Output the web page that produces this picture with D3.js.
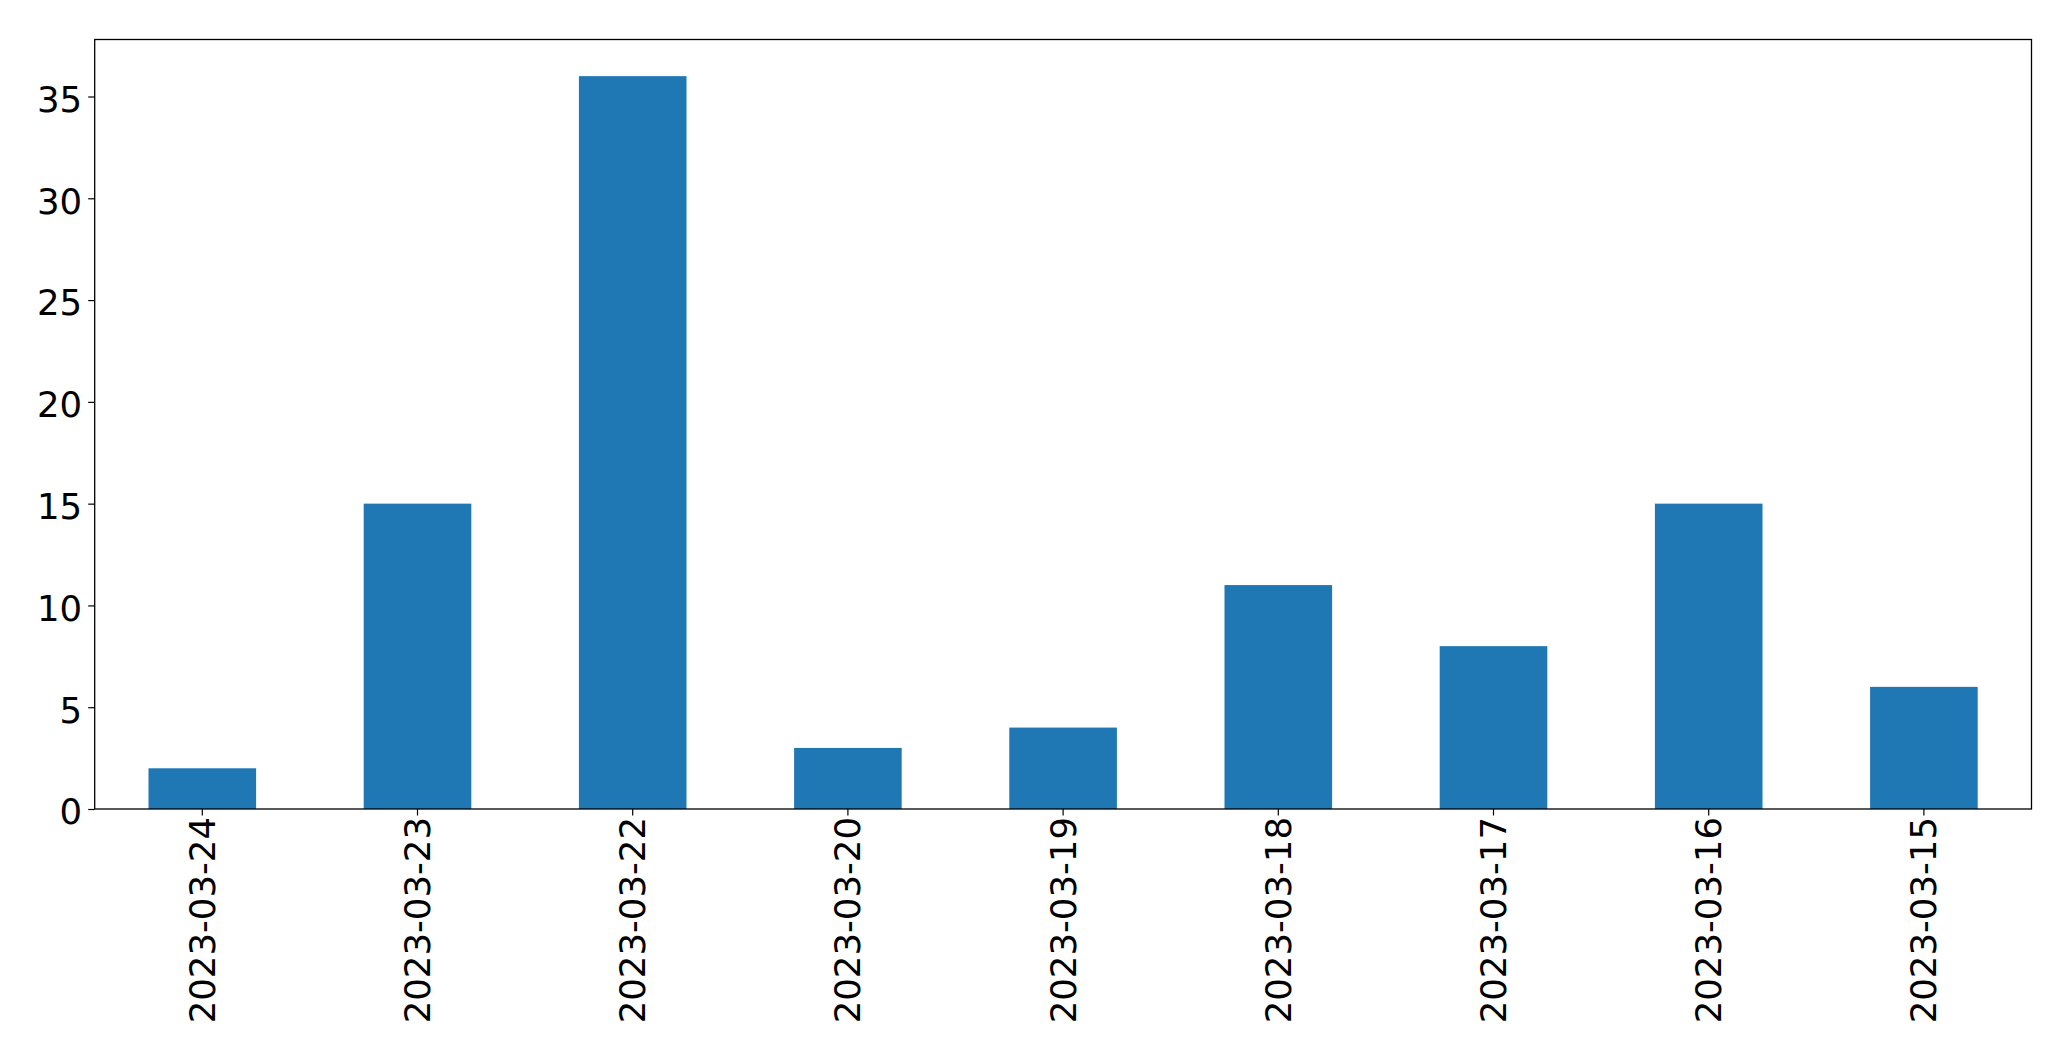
<!DOCTYPE html>
<html><head><meta charset="utf-8">
<script src="https://cdn.jsdelivr.net/npm/d3@7"></script>
<style>body{margin:0;background:#fff}svg{display:block}text{font-family:"DejaVu Sans",sans-serif;fill:#000}</style>
</head><body>
<script>
const categories = ["2023-03-24","2023-03-23","2023-03-22","2023-03-20","2023-03-19","2023-03-18","2023-03-17","2023-03-16","2023-03-15"];
const values = [2,15,36,3,4,11,8,15,6];
const yTicks = [0,5,10,15,20,25,30,35];

const W=2071,H=1061;
const m={left:94.7,right:2031.5,top:39.5,bottom:809};
const svg=d3.select("body").append("svg").attr("width",W).attr("height",H);
const x=d3.scaleBand().domain(categories).range([m.left,m.right]).paddingInner(0.5).paddingOuter(0.25);
const y=d3.scaleLinear().domain([0,d3.max(values)*1.05]).range([m.bottom,m.top]);

svg.selectAll("rect.bar").data(values).join("rect").attr("class","bar")
  .attr("x",(d,i)=>x(categories[i])).attr("width",x.bandwidth())
  .attr("y",d=>y(d)).attr("height",d=>y(0)-y(d)).attr("fill","#1f77b4");

const fs=35.5;
const ya=svg.append("g").attr("transform",`translate(${m.left},0)`)
  .call(d3.axisLeft(y).tickValues(yTicks).tickSize(6.5).tickPadding(6));
ya.select(".domain").remove();
ya.selectAll("line").attr("stroke","#000").attr("stroke-width",1.2);
ya.selectAll("text").attr("font-size",fs).attr("font-family","DejaVu Sans").attr("fill","#000").attr("dy","0.42em");

const xa=svg.append("g").attr("transform",`translate(0,${m.bottom})`)
  .call(d3.axisBottom(x).tickSize(6.5).tickPadding(0));
xa.select(".domain").remove();
xa.selectAll("line").attr("stroke","#000").attr("stroke-width",1.2);
xa.selectAll("text").attr("font-size",fs).attr("font-family","DejaVu Sans").attr("fill","#000")
  .attr("text-anchor","end").attr("y",0).attr("dy","0.35em")
  .attr("transform","translate(0,8) rotate(-90)");

svg.append("rect").attr("x",m.left).attr("y",m.top).attr("width",m.right-m.left).attr("height",m.bottom-m.top)
  .attr("fill","none").attr("stroke","#000").attr("stroke-width",1.3);
</script>
</body></html>
